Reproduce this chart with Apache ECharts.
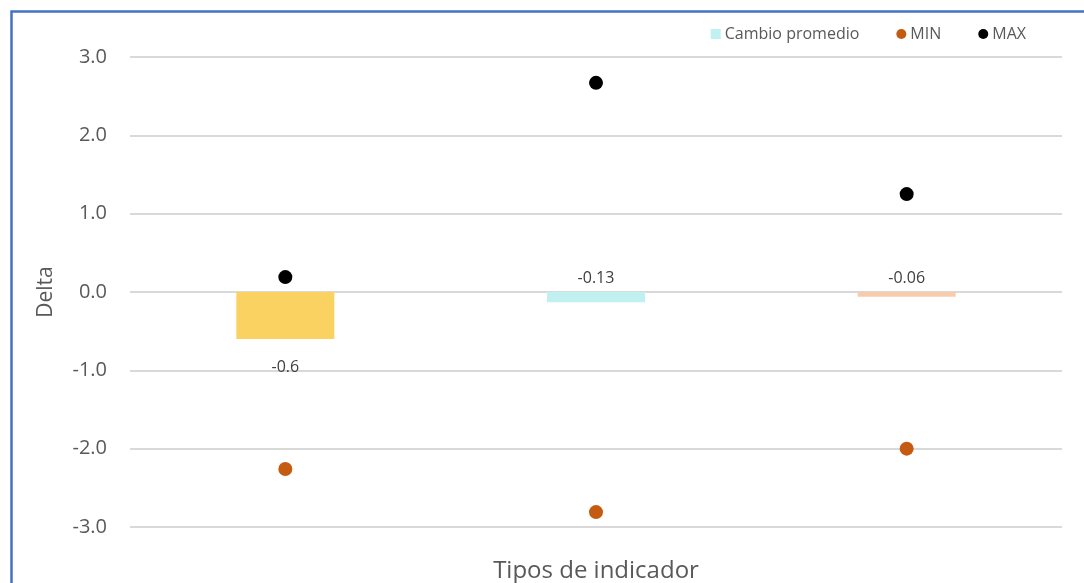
<!DOCTYPE html>
<html>
<head>
<meta charset="utf-8">
<script src="https://cdn.jsdelivr.net/npm/echarts@6/dist/echarts.min.js"></script>
<style>
  html, body { margin: 0; padding: 0; background: #ffffff; overflow: hidden; }
  #chart { width: 1084px; height: 583px; }
</style>
</head>
<body>
<div id="chart"></div>
<script>
// Indicator types (category labels are not shown on the axis)
const categories = ['Tipo 1', 'Tipo 2', 'Tipo 3'];
// Average change per indicator type
const avgChange = [-0.6, -0.13, -0.06];
// Minimum and maximum delta per indicator type
const minValues = [-2.26, -2.81, -2.0];
const maxValues = [0.19, 2.67, 1.25];
// Y axis range and step
const yMin = -3, yMax = 3, yStep = 1;

const barColors = ['#F9D262', '#C0F0F0', '#F8CBAD'];
const labelPos = ['bottom', 'top', 'top'];
const labelDist = [20, 6, 6];

const textColor = '#595959';
const fontFamily = '"Open Sans", "Noto Sans", sans-serif';

const chart = echarts.init(document.getElementById('chart'), null, { renderer: 'canvas' });

chart.setOption({
  animation: false,
  backgroundColor: '#ffffff',
  textStyle: { fontFamily: fontFamily },
  graphic: [{
    type: 'rect',
    left: 9, top: 9,
    shape: { width: 1200, height: 700 },
    style: { fill: 'none', stroke: '#4472C4', lineWidth: 2.5 },
    z: -1
  }],
  legend: {
    right: 53,
    top: 21,
    itemWidth: 10,
    itemHeight: 10,
    itemGap: 37,
    textStyle: { color: textColor, fontSize: 16, fontFamily: fontFamily, padding: [0, 0, 0, -1] },
    data: [
      { name: 'Cambio promedio', icon: 'rect' },
      { name: 'MIN', icon: 'circle' },
      { name: 'MAX', icon: 'circle' }
    ]
  },
  grid: { left: 130, right: 22, top: 57, bottom: 56, containLabel: false, outerBoundsMode: 'none' },
  xAxis: {
    type: 'category',
    data: categories,
    axisLine: { show: false },
    axisTick: { show: false },
    axisLabel: { show: false },
    splitLine: { show: false },
    name: 'Tipos de indicador',
    nameLocation: 'middle',
    nameGap: 32,
    nameTextStyle: { color: textColor, fontSize: 24, fontFamily: fontFamily }
  },
  yAxis: {
    type: 'value',
    min: yMin,
    max: yMax,
    interval: yStep,
    axisLine: { show: false },
    axisTick: { show: false },
    axisLabel: {
      color: textColor, fontSize: 20, margin: 23,
      formatter: v => v.toFixed(1)
    },
    splitLine: { lineStyle: { color: '#D9D9D9', width: 2 } },
    name: 'Delta',
    nameLocation: 'middle',
    nameGap: 73,
    nameRotate: 90,
    nameTextStyle: { color: textColor, fontSize: 21, fontFamily: fontFamily }
  },
  series: [
    {
      name: 'Cambio promedio',
      type: 'bar',
      barWidth: 98,
      itemStyle: { color: '#C0F0F0' },
      data: avgChange.map((v, i) => ({
        value: v,
        itemStyle: { color: barColors[i] },
        label: {
          show: true,
          position: labelPos[i],
          distance: labelDist[i],
          color: '#404040',
          fontSize: 16,
          fontFamily: fontFamily,
          formatter: String(v)
        }
      })),
      z: 2
    },
    {
      name: 'MIN',
      type: 'scatter',
      symbol: 'circle',
      symbolSize: 14,
      itemStyle: { color: '#C55A11', opacity: 1 },
      data: minValues,
      z: 3
    },
    {
      name: 'MAX',
      type: 'scatter',
      symbol: 'circle',
      symbolSize: 14,
      itemStyle: { color: '#000000', opacity: 1 },
      data: maxValues,
      z: 3
    }
  ]
});
</script>
</body>
</html>
